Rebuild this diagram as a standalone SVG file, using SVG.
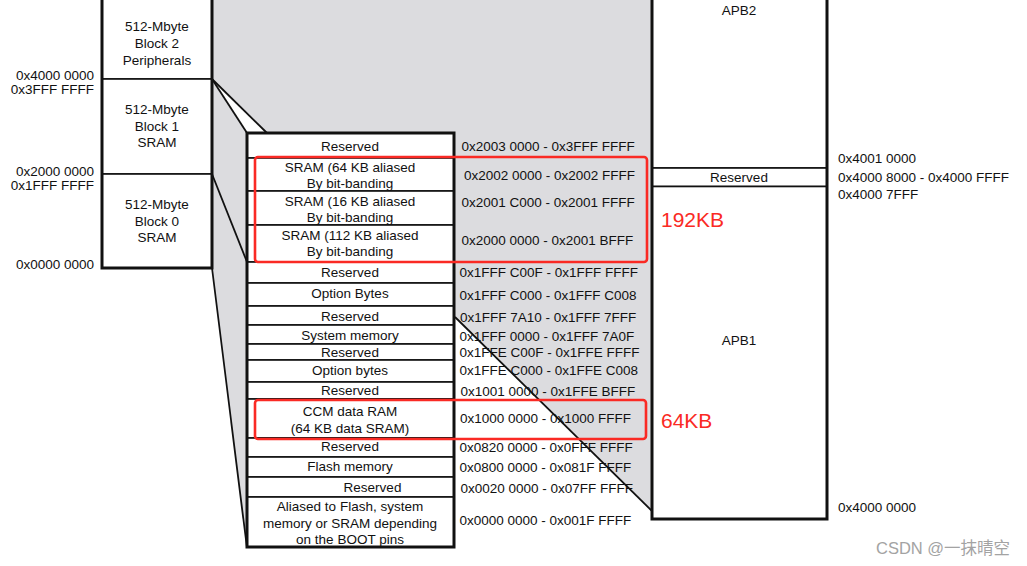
<svg xmlns="http://www.w3.org/2000/svg" width="1027" height="566" viewBox="0 0 1027 566">
<style>
text{font-family:"Liberation Sans",Arial,sans-serif;font-size:13.5px;fill:#111}
.c{text-anchor:middle}
.r{text-anchor:end}
.cell{fill:#fff;stroke:#111;stroke-width:1.6}
.thick{fill:none;stroke:#111;stroke-width:3}
.ln{stroke:#111;stroke-width:1.8;fill:none}
.red{fill:none;stroke:#fa2a24;stroke-width:2.6}
.redt{fill:#fa2a24;font-size:21px}
.wm{fill:#a3a3a3;font-size:16.5px;font-family:"Liberation Sans","Noto Sans CJK SC",sans-serif}
</style>
<rect width="1027" height="566" fill="#fff"/>
<g id="background">
<polygon points="212,-5 652,-5 652,511 455,317 455,548 247,548 212,268" fill="#dcdcdf"/>
<polygon points="212,79 247,133 267,133" fill="#fff"/>
</g>
<g id="connectors">
<line class="ln" x1="212" y1="79" x2="247" y2="133"/>
<line class="ln" x1="212" y1="79" x2="267" y2="133"/>
<line class="ln" x1="212" y1="174" x2="247" y2="262"/>
<line class="ln" x1="212" y1="268" x2="247" y2="548"/>
<line class="ln" x1="455" y1="317" x2="652" y2="511"/>
</g>
<g id="block2">
<rect class="cell" x="102" y="-5" width="110" height="84"/>
<text class="c" x="157" y="31">512-Mbyte</text>
<text class="c" x="157" y="48">Block 2</text>
<text class="c" x="157" y="64.5">Peripherals</text>
</g>
<g id="block1">
<rect class="cell" x="102" y="79" width="110" height="95"/>
<text class="c" x="157" y="114">512-Mbyte</text>
<text class="c" x="157" y="130.5">Block 1</text>
<text class="c" x="157" y="146.5">SRAM</text>
</g>
<g id="block0">
<rect class="cell" x="102" y="174" width="110" height="94"/>
<text class="c" x="157" y="209">512-Mbyte</text>
<text class="c" x="157" y="225.5">Block 0</text>
<text class="c" x="157" y="241.5">SRAM</text>
</g>
<rect class="thick" x="102" y="-5" width="110" height="273"/>
<g id="left-addresses">
<text class="r" x="94" y="80">0x4000 0000</text>
<text class="r" x="94" y="93.5">0x3FFF FFFF</text>
<text class="r" x="94" y="176">0x2000 0000</text>
<text class="r" x="94" y="189.5">0x1FFF FFFF</text>
<text class="r" x="94" y="269">0x0000 0000</text>
</g>
<g id="row1"><rect class="cell" x="247" y="133" width="207" height="25"/><text class="c" x="350" y="151">Reserved</text><text x="461.5" y="151">0x2003 0000 - 0x3FFF FFFF</text></g>
<g id="row2"><rect class="cell" x="247" y="158" width="207" height="33"/><text class="c" x="350" y="172">SRAM (64 KB aliased</text><text class="c" x="350" y="188">By bit-banding</text><text x="464" y="180">0x2002 0000 - 0x2002 FFFF</text></g>
<g id="row3"><rect class="cell" x="247" y="191" width="207" height="34"/><text class="c" x="350" y="205.5">SRAM (16 KB aliased</text><text class="c" x="350" y="221.5">By bit-banding</text><text x="461.5" y="207">0x2001 C000 - 0x2001 FFFF</text></g>
<g id="row4"><rect class="cell" x="247" y="225" width="207" height="37"/><text class="c" x="350" y="239.5">SRAM (112 KB aliased</text><text class="c" x="350" y="255.5">By bit-banding</text><text x="461.5" y="244.5">0x2000 0000 - 0x2001 BFFF</text></g>
<g id="row5"><rect class="cell" x="247" y="262" width="207" height="21"/><text class="c" x="350" y="276.5">Reserved</text><text x="459.5" y="276.5">0x1FFF C00F - 0x1FFF FFFF</text></g>
<g id="row6"><rect class="cell" x="247" y="283" width="207" height="23"/><text class="c" x="350" y="297.5">Option Bytes</text><text x="459.5" y="299.5">0x1FFF C000 - 0x1FFF C008</text></g>
<g id="row7"><rect class="cell" x="247" y="306" width="207" height="19"/><text class="c" x="350" y="321">Reserved</text><text x="460" y="321.5">0x1FFF 7A10 - 0x1FFF 7FFF</text></g>
<g id="row8"><rect class="cell" x="247" y="325" width="207" height="19"/><text class="c" x="350" y="340">System memory</text><text x="459.5" y="340.5">0x1FFF 0000 - 0x1FFF 7A0F</text></g>
<g id="row9"><rect class="cell" x="247" y="344" width="207" height="16"/><text class="c" x="350" y="356.5">Reserved</text><text x="459.5" y="357">0x1FFE C00F - 0x1FFE FFFF</text></g>
<g id="row10"><rect class="cell" x="247" y="360" width="207" height="22"/><text class="c" x="350" y="374.5">Option bytes</text><text x="459.5" y="374.5">0x1FFE C000 - 0x1FFE C008</text></g>
<g id="row11"><rect class="cell" x="247" y="382" width="207" height="17"/><text class="c" x="350" y="395">Reserved</text><text x="460.5" y="395.5">0x1001 0000 - 0x1FFE BFFF</text></g>
<g id="row12"><rect class="cell" x="247" y="399" width="207" height="39"/><text class="c" x="350" y="416">CCM data RAM</text><text class="c" x="350" y="433">(64 KB data SRAM)</text><text x="460" y="422.5">0x1000 0000 - 0x1000 FFFF</text></g>
<g id="row13"><rect class="cell" x="247" y="438" width="207" height="19"/><text class="c" x="350" y="451">Reserved</text><text x="459.5" y="451.5">0x0820 0000 - 0x0FFF FFFF</text></g>
<g id="row14"><rect class="cell" x="247" y="457" width="207" height="20"/><text class="c" x="350" y="471">Flash memory</text><text x="459.5" y="471.5">0x0800 0000 - 0x081F FFFF</text></g>
<g id="row15"><rect class="cell" x="247" y="477" width="207" height="20"/><text class="c" x="372.5" y="492">Reserved</text><text x="460.5" y="492.5">0x0020 0000 - 0x07FF FFFF</text></g>
<g id="row16"><rect class="cell" x="247" y="497" width="207" height="50"/><text class="c" x="350" y="510.5">Aliased to Flash, system</text><text class="c" x="350" y="527.5">memory or SRAM depending</text><text class="c" x="350" y="543.5">on the BOOT pins</text><text x="459.5" y="525">0x0000 0000 - 0x001F FFFF</text></g>
<rect class="thick" x="247" y="133" width="207" height="414"/>
<g id="apb2"><rect class="cell" x="652" y="-5" width="175" height="173"/><text class="c" x="739" y="15">APB2</text></g>
<g id="apb-reserved"><rect class="cell" x="652" y="168" width="175" height="18.5"/><text class="c" x="739" y="182">Reserved</text></g>
<g id="apb1"><rect class="cell" x="652" y="186.5" width="175" height="332.5"/><text class="c" x="739" y="345">APB1</text></g>
<rect class="thick" x="652" y="-5" width="175" height="524"/>
<g id="right-addresses">
<text x="838" y="163">0x4001 0000</text>
<text x="838" y="182">0x4000 8000 - 0x4000 FFFF</text>
<text x="838" y="199">0x4000 7FFF</text>
<text x="838" y="512">0x4000 0000</text>
</g>
<g id="annotation-192KB">
<rect class="red" x="255" y="157" width="392" height="105" rx="3"/>
<text class="redt" x="661" y="227">192KB</text>
</g>
<g id="annotation-64KB">
<rect class="red" x="255" y="400" width="391" height="39" rx="3"/>
<text class="redt" x="661" y="427.5">64KB</text>
</g>
<text class="wm" x="876" y="554">CSDN @一抹晴空</text>
</svg>
